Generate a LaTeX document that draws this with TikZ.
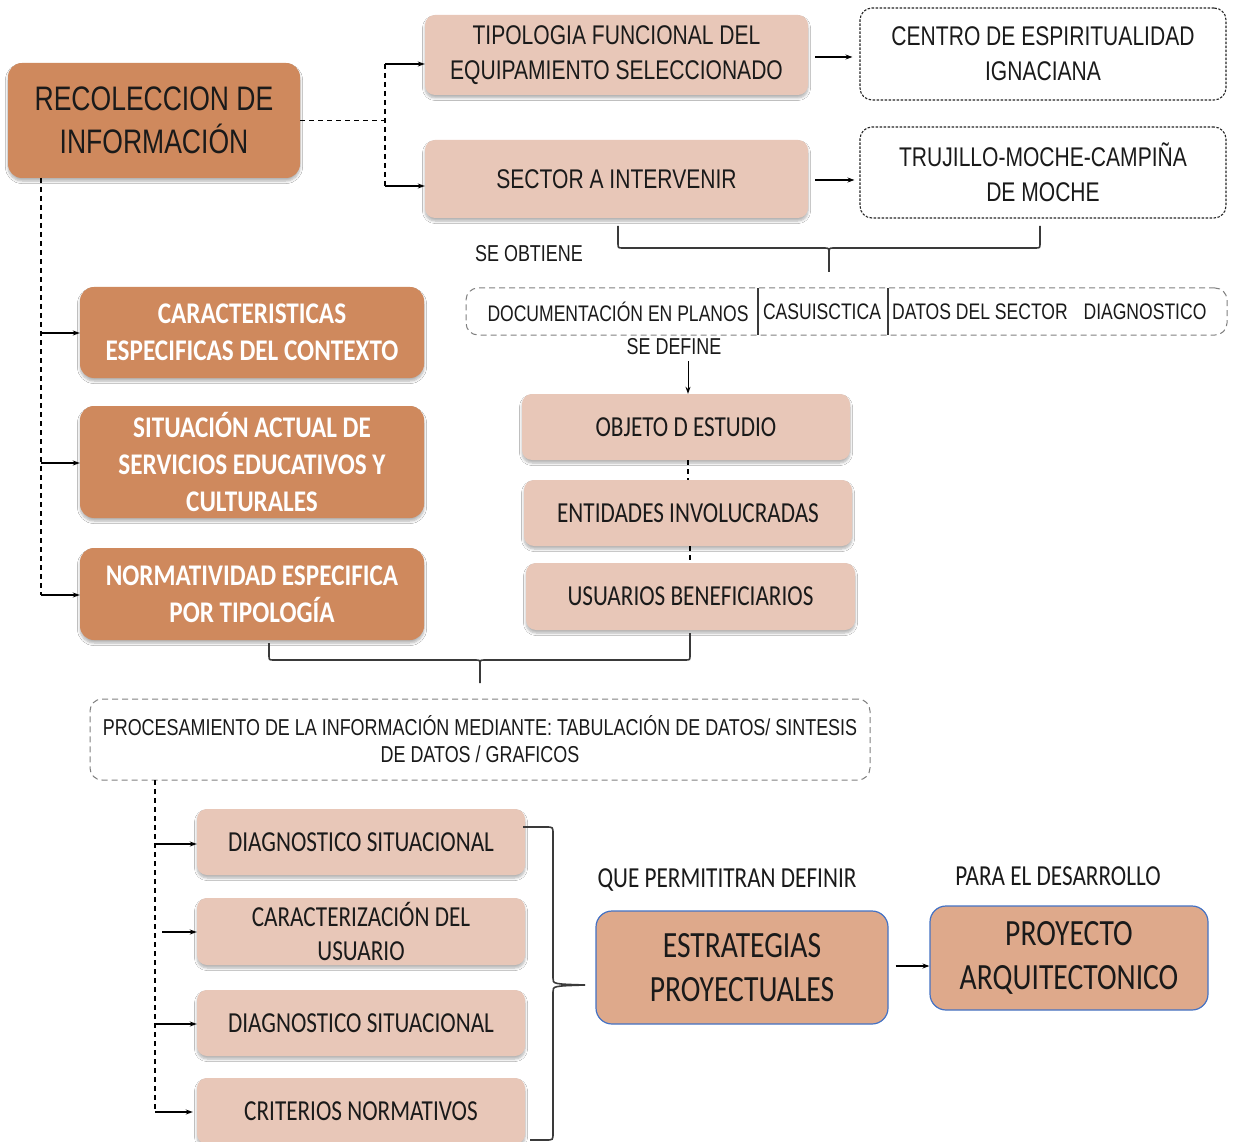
\documentclass[tikz,border=0pt]{standalone}
\usepackage{fontspec}
\setmainfont[FakeStretch=0.8]{Carlito}
\newfontfamily\dinf[FakeStretch=0.78]{Liberation Sans}
\newfontfamily\bldf[FakeStretch=0.84]{Carlito}
\usetikzlibrary{shadows.blur,arrows.meta}
\definecolor{orangec}{HTML}{CF895D}
\definecolor{pinkc}{HTML}{E8C7B8}
\definecolor{salmonc}{HTML}{DEA98B}
\definecolor{bluec}{HTML}{4472C4}
\definecolor{linec}{HTML}{3A3A3A}
\definecolor{txtc}{HTML}{1A1A1A}
\begin{document}
\begin{tikzpicture}[x=1pt,y=-1pt,
 shad/.style={blur shadow={shadow xshift=0pt,shadow yshift=-3pt,shadow blur radius=2.5pt,shadow blur steps=6,shadow opacity=30}},
 obox/.style={rounded corners=14pt, fill=orangec, shad, inner sep=0pt, align=center},
 pbox/.style={rounded corners=10pt, fill=pinkc, shad, inner sep=0pt, align=center, text=txtc},
 dbox/.style={rounded corners=12pt, draw=black!85, dash pattern=on 2.5pt off 1.5pt, line width=1.1pt, inner sep=0pt, align=center, text=txtc},
 gbox/.style={rounded corners=12pt, draw=black!50, dash pattern=on 6pt off 4pt, line width=1pt, inner sep=0pt, align=center, text=txtc},
 sbox/.style={rounded corners=16pt, fill=salmonc, draw=bluec, line width=1.2pt, inner sep=0pt, align=center, text=txtc},
 dsh/.style={line width=1.1pt, dash pattern=on 5pt off 4pt},
 arr/.style={line width=1.1pt, -{Stealth[length=7pt,width=5pt]}},
 brc/.style={draw=linec, line width=1.6pt},
 fA/.style={font=\dinf\fontsize{27}{35}\selectfont},
 fBig/.style={font=\dinf\fontsize{34}{43}\selectfont},
 fS/.style={font=\dinf\fontsize{22.5}{27}\selectfont, text=txtc, inner sep=0pt},
 fC/.style={font=\fontsize{29}{35}\selectfont},
 fE/.style={font=\fontsize{37}{44}\selectfont},
 fW/.style={font=\bldf\bfseries\fontsize{30}{37}\selectfont, text=white},
]
\fill[white] (0,0) rectangle (1235,1142);
\useasboundingbox (0,0) rectangle (1235,1142);

% top part
\node[obox, fBig, text=txtc, minimum width=292pt, minimum height=115pt] (rec) at (154,120.5) {RECOLECCION DE\\INFORMACIÓN};
\node[pbox, fA, minimum width=383pt, minimum height=80pt] (tip) at (616.5,55) {TIPOLOGIA FUNCIONAL DEL\\EQUIPAMIENTO SELECCIONADO};
\node[dbox, fA, minimum width=366pt, minimum height=92pt] (centro) at (1043,54) {CENTRO DE ESPIRITUALIDAD\\IGNACIANA};
\node[pbox, fA, minimum width=383pt, minimum height=78pt] (sector) at (616.5,179) {SECTOR A INTERVENIR};
\node[dbox, fA, minimum width=366pt, minimum height=91pt] (truj) at (1043,172.5) {TRUJILLO-MOCHE-CAMPIÑA\\DE MOCHE};

\coordinate (jt) at (385,64);
\coordinate (js) at (385,186);
\draw[dsh] (rec.east) -- (rec.east -| jt);
\draw[dsh] (jt) -- (js);
\draw[arr] (jt) -- (jt -| tip.west);
\draw[arr] (js) -- (js -| sector.west);
\draw[arr, shorten <=7pt, shorten >=7pt] ([yshift=-2pt]tip.east) -- ([yshift=-2pt]tip.east -| centro.west);
\draw[arr, shorten <=7pt, shorten >=5pt] ([yshift=-1pt]sector.east) -- ([yshift=-1pt]sector.east -| truj.west);

% brace under sector / trujillo
\draw[brc] (618,226) -- (618,243) .. controls (618,248) .. (623,248) -- (824,248) .. controls (829,248) .. (829,254) -- (829,272);
\draw[brc] (1040,226) -- (1040,243) .. controls (1040,248) .. (1035,248) -- (834,248) .. controls (829,248) .. (829,254);

\node[fS, font=\dinf\fontsize{23}{27}\selectfont] (obt) at (529,254) {SE OBTIENE};

\node[gbox, minimum width=761pt, minimum height=47pt] (doc) at (846.5,311.5) {};
\draw[linec, line width=1.1pt] (758,288) -- (758,335);
\draw[linec, line width=1.1pt] (888,288) -- (888,335);
\node[fS] (d1t) at (618,312) {DOCUMENTACIÓN EN PLANOS};
\node[fS] (d2t) at (822,312) {CASUISCTICA};
\node[fS] (d3t) at (980,312) {DATOS DEL SECTOR};
\node[fS] (d4t) at (1145,312) {DIAGNOSTICO};
\node[fS, font=\dinf\fontsize{23}{27}\selectfont] (def) at (674,347) {SE DEFINE};

\node[pbox, fC, minimum width=328pt, minimum height=66pt] (obj) at (686,427) {OBJETO D ESTUDIO};
\node[pbox, fC, minimum width=328pt, minimum height=66pt] (ent) at (688,513) {ENTIDADES INVOLUCRADAS};
\node[pbox, fC, minimum width=329pt, minimum height=67pt] (usu) at (690.5,596.5) {USUARIOS BENEFICIARIOS};

\coordinate (sd) at (688,361);
\draw[arr, line width=0.9pt] (sd) -- (sd |- obj.north);
\draw[dsh] ([xshift=2pt]obj.south) -- ([xshift=2pt]obj.south |- ent.north);
\draw[dsh] ([xshift=2pt]ent.south) -- ([xshift=2pt]ent.south |- usu.north);

% left orange boxes
\node[obox, fW, minimum width=344pt, minimum height=91pt] (car) at (252,332.5) {CARACTERISTICAS\\ESPECIFICAS DEL CONTEXTO};
\node[obox, fW, minimum width=344pt, minimum height=112pt] (sit) at (252,462) {SITUACIÓN ACTUAL DE\\SERVICIOS EDUCATIVOS Y\\CULTURALES};
\node[obox, fW, minimum width=344pt, minimum height=92pt] (norm) at (252,594) {NORMATIVIDAD ESPECIFICA\\POR TIPOLOGÍA};

\coordinate (l0) at (41,178);
\coordinate (l1) at (41,333);
\coordinate (l2) at (41,463);
\coordinate (l3) at (41,595);
\draw[dsh] (l0) -- (l3);
\draw[arr] (l1) -- (l1 -| car.west);
\draw[arr] (l2) -- (l2 -| sit.west);
\draw[arr] (l3) -- (l3 -| norm.west);

% brace under left/right columns
\draw[brc] (269,643) -- (269,655) .. controls (269,660) .. (274,660) -- (475,660) .. controls (480,660) .. (480,665) -- (480,683);
\draw[brc] (690,633) -- (690,655) .. controls (690,660) .. (685,660) -- (485,660) .. controls (480,660) .. (480,665);

\node[gbox, fS, font=\dinf\fontsize{23}{27}\selectfont, minimum width=780pt, minimum height=81pt] (proc) at (480,739.5) {PROCESAMIENTO DE LA INFORMACIÓN MEDIANTE: TABULACIÓN DE DATOS/ SINTESIS\\DE DATOS / GRAFICOS};

% bottom list
\node[pbox, fC, minimum width=328pt, minimum height=66pt] (dg1) at (361,842) {DIAGNOSTICO SITUACIONAL};
\node[pbox, fC, font=\fontsize{29}{34}\selectfont, minimum width=328pt, minimum height=67pt] (carz) at (361,931.5) {CARACTERIZACIÓN DEL\\USUARIO};
\node[pbox, fC, minimum width=328pt, minimum height=66pt] (dg2) at (361,1023) {DIAGNOSTICO SITUACIONAL};
\node[pbox, fC, minimum width=328pt, minimum height=66pt] (crit) at (361,1111) {CRITERIOS NORMATIVOS};

\coordinate (b0) at (155,780);
\coordinate (b1) at (155,844);
\coordinate (b2) at (162,932);
\coordinate (b3) at (155,1024);
\coordinate (b4) at (155,1112);
\draw[dsh] (b0) -- (b4);
\draw[arr] (b1) -- (b1 -| dg1.west);
\draw[arr] (b2) -- (b2 -| carz.west);
\draw[arr] (b3) -- (b3 -| dg2.west);
\draw[arr] (b4) -- ([xshift=-4pt]b4 -| crit.west);

% right brace
\draw[brc] (523,827) -- (546,827) .. controls (553,827) .. (553,834) -- (553,978) .. controls (553,984) .. (585,985);
\draw[brc] (585,985) .. controls (553,986) .. (553,992) -- (553,1133) .. controls (553,1140) .. (546,1140) -- (530,1140);

\node[fC, text=txtc, inner sep=0pt] (que) at (727,880) {QUE PERMITITRAN DEFINIR};
\node[fC, text=txtc, inner sep=0pt] (para) at (1058,876) {PARA EL DESARROLLO};

\node[sbox, fE, minimum width=292pt, minimum height=113pt] (estr) at (742,967.5) {ESTRATEGIAS\\PROYECTUALES};
\node[sbox, fE, minimum width=278pt, minimum height=104pt] (proy) at (1069,958) {PROYECTO\\ARQUITECTONICO};
\draw[arr, shorten <=7pt] ([yshift=1.5pt]estr.east) -- ([yshift=1.5pt]estr.east -| proy.west);
\end{tikzpicture}
\end{document}
